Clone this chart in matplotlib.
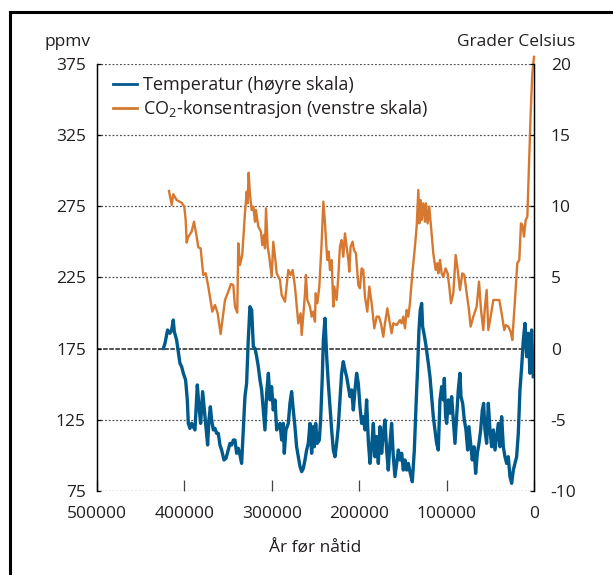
import matplotlib.pyplot as plt
from matplotlib.lines import Line2D

# CO2-konsentrasjon (ppmv), lest av figuren
co2_year = [417600, 414500, 412700, 408800, 403100, 400100, 398500, 397400, 395500, 391700,
            389000, 385900, 384100, 381400, 378400, 375600, 372600, 368000, 365000, 361900,
            358500, 353500, 349800, 346700, 344000, 342100, 339500, 338300, 336400, 333800,
            330700, 328700, 327600, 326500, 325000, 323000, 321100, 319200, 318100, 315400,
            312400, 310800, 308900, 307800, 306600, 304700, 302900, 300100, 298300, 296300,
            294400, 290600, 288700, 284900, 281100, 278400, 276100, 273500, 269650, 267000,
            265800, 263900, 262000, 260900, 259350, 256300, 254400, 252500, 250600, 249800,
            247900, 245600, 243000, 241000, 239100, 238000, 236500, 234950, 233400, 231500,
            229600, 228500, 225800, 223900, 222000, 220100, 218200, 216250, 214350, 212400,
            211300, 209800, 207500, 206000, 203700, 201000, 199100, 197200, 195300, 193400,
            190700, 188400, 185750, 182700, 180000, 177400, 175100, 172400, 170500, 167800,
            164800, 162900, 160950, 157100, 153300, 151400, 149500, 147600, 145700, 143800,
            141900, 139200, 136200, 134250, 132300, 131200, 129700, 128500, 126600, 124700,
            123600, 121700, 119800, 117850, 115200, 112500, 110600, 109500, 107550, 105650,
            103750, 101100, 98800, 96900, 95000, 92300, 89600, 87300, 84700, 82000,
            79700, 77000, 74400, 72500, 69400, 65600, 62900, 60600, 58000, 56100,
            54150, 52250, 49600, 46500, 42700, 39700, 37000, 34000, 32000, 29400,
            26700, 24800, 21750, 19100, 16800, 14900, 13350, 11450, 9500, 7600,
            5700, 3800, 1900, 0]
co2_ppmv = [285.8, 276.0, 283.5, 279.4, 277.5, 274.8, 265.4, 249.5, 253.7, 257.2,
            264.2, 253.7, 246.2, 245.5, 226.8, 228.0, 218.5, 201.0, 205.7, 199.8,
            185.3, 209.2, 215.0, 220.4, 219.7, 204.5, 200.3, 249.0, 233.8, 240.8,
            270.1, 285.3, 277.1, 298.6, 284.1, 272.4, 274.8, 264.2, 272.4, 260.7,
            257.2, 247.8, 254.9, 245.5, 273.6, 246.7, 239.6, 225.6, 250.1, 239.6,
            228.0, 223.2, 212.7, 208.0, 230.3, 226.8, 230.3, 218.6, 192.8, 199.8,
            184.6, 198.6, 213.9, 226.8, 209.2, 204.5, 197.5, 201.0, 194.0, 213.9,
            206.9, 218.6, 249.0, 278.3, 263.0, 251.3, 237.3, 243.2, 230.3, 237.3,
            204.5, 218.6, 209.2, 225.6, 246.7, 251.3, 239.6, 256.0, 246.7, 237.3,
            229.1, 246.7, 250.2, 244.3, 242.0, 219.7, 217.4, 231.4, 230.3, 211.5,
            201.0, 218.6, 206.9, 189.3, 197.5, 197.5, 192.8, 183.4, 192.8, 203.3,
            192.8, 185.8, 192.8, 191.6, 195.1, 192.8, 197.5, 189.3, 202.2, 197.5,
            206.9, 227.9, 246.7, 260.7, 286.5, 263.0, 279.4, 265.4, 277.1, 264.2,
            277.1, 263.0, 274.8, 260.7, 242.0, 230.3, 235.0, 227.9, 237.3, 227.9,
            225.6, 231.4, 227.9, 218.6, 206.9, 213.9, 240.8, 230.3, 216.2, 227.9,
            226.8, 213.9, 202.2, 190.5, 197.5, 204.5, 222.1, 202.2, 188.1, 204.5,
            216.2, 188.1, 197.5, 209.2, 209.2, 209.2, 199.8, 188.1, 191.6, 190.5,
            187.0, 181.1, 209.2, 235.0, 237.3, 263.0, 261.9, 253.7, 265.4, 267.7,
            302.9, 340.3, 368.4, 380.0]

# Temperatur (grader Celsius, avvik), lest av figuren
temp_year = [424100, 422200, 419200, 416500, 414600, 412700, 411500, 408900, 407000, 405050,
             403100, 401200, 398600, 396650, 395500, 393600, 391700, 389800, 387900, 386700,
             385200, 383300, 381400, 379100, 377200, 375700, 373400, 371900, 370300, 368800,
             366900, 365000, 363100, 361200, 359300, 357400, 354700, 352400, 349800, 347800,
             345900, 344000, 342100, 340200, 338300, 336400, 334500, 332600, 330700, 328800,
             326900, 325000, 323000, 321100, 319200, 317300, 315400, 313500, 311600, 309700,
             307800, 305900, 303900, 302100, 300200, 298300, 296300, 294400, 290600, 288700,
             286800, 285700, 283800, 281100, 279200, 277300, 275400, 273500, 271600, 269650,
             267700, 265800, 263900, 262000, 260100, 258200, 256300, 254400, 252500, 251300,
             249800, 247900, 245600, 244100, 242200, 241000, 239100, 237200, 235300, 233400,
             231500, 229600, 227700, 225800, 223900, 222000, 220100, 218200, 216250, 214350,
             212400, 210500, 208600, 206700, 204800, 202900, 201000, 199100, 197200, 195300,
             193400, 191500, 189600, 187650, 185750, 183800, 181900, 180000, 178100, 176200,
             174300, 172400, 170500, 168600, 166700, 164800, 162900, 160950, 159050, 157100,
             155200, 153300, 151400, 149500, 147600, 145700, 143800, 141900, 139200, 136900,
             135000, 133100, 131600, 130100, 128500, 127400, 125900, 123950, 122400, 120900,
             119000, 117100, 115200, 113300, 111400, 109500, 107550, 105650, 103750, 102600,
             101100, 99900, 98000, 96100, 94200, 92300, 90400, 88500, 86600, 84700,
             83500, 81600, 79700, 77800, 75900, 74400, 72500, 70600, 68650, 66750,
             64850, 62900, 61000, 59100, 57600, 56100, 54150, 52250, 50350, 48450,
             46500, 44600, 42700, 40800, 38900, 37000, 35100, 33200, 31300, 29400,
             27500, 25550, 23650, 21750, 19850, 17950, 16050, 14100, 12200, 10300,
             8400, 6500, 4600, 2700, 800]
temp_c = [0.02, 0.37, 1.31, 1.08, 1.31, 2.01, 1.19, 0.61, -0.21, -1.03,
          -1.27, -1.73, -2.20, -3.60, -5.25, -5.60, -5.25, -5.48, -5.71, -4.31,
          -2.55, -4.08, -5.25, -3.02, -4.31, -5.25, -6.77, -5.01, -4.08, -5.01,
          -5.71, -5.60, -5.95, -5.95, -6.77, -7.12, -7.82, -7.71, -7.12, -6.65,
          -6.77, -6.42, -6.42, -7.35, -7.00, -7.47, -8.06, -5.71, -3.37, -2.44,
          0.61, 2.95, 2.71, 0.14, 0.02, -0.56, -1.27, -2.20, -2.90, -4.31,
          -5.71, -3.14, -1.73, -3.60, -2.67, -4.31, -3.60, -5.71, -5.25, -6.42,
          -5.25, -7.35, -5.71, -5.25, -3.84, -3.02, -4.31, -5.48, -6.89, -7.59,
          -8.29, -8.64, -8.41, -7.82, -7.12, -6.65, -5.25, -7.35, -5.48, -6.89,
          -5.25, -6.65, -6.42, -5.01, -1.97, 0.61, 2.13, -0.56, -2.44, -4.08,
          -5.71, -7.12, -7.59, -6.65, -5.48, -3.60, -1.73, -0.91, -1.50, -1.97,
          -2.67, -3.37, -2.90, -4.31, -2.90, -1.73, -2.44, -4.08, -5.25, -4.78,
          -5.71, -3.60, -6.42, -8.06, -6.89, -5.25, -7.59, -6.18, -8.06, -5.48,
          -7.35, -5.95, -5.01, -7.12, -8.53, -6.65, -5.25, -7.59, -8.99, -8.06,
          -7.12, -7.82, -7.35, -8.53, -7.82, -8.53, -8.06, -8.64, -9.35, -7.12,
          -4.08, -1.27, 1.31, 2.71, 3.18, 1.54, 1.08, 0.37, -0.33, -1.03,
          -1.97, -3.37, -4.78, -5.71, -6.65, -7.12, -3.60, -2.67, -3.60, -2.09,
          -4.78, -5.25, -3.60, -4.54, -3.37, -5.01, -6.65, -4.78, -2.90, -1.73,
          -3.37, -3.84, -5.01, -5.71, -7.12, -5.48, -6.65, -7.82, -6.89, -8.76,
          -7.35, -6.65, -5.71, -4.31, -3.84, -5.71, -6.65, -3.84, -5.71, -6.89,
          -5.71, -7.12, -6.18, -5.25, -6.89, -4.78, -6.89, -7.59, -8.06, -7.59,
          -8.99, -9.46, -8.53, -8.06, -7.59, -5.95, -2.90, -1.27, 0.61, 1.78,
          -0.56, 1.08, -1.73, 1.31, -1.97]

x_ticks = [500000, 400000, 300000, 200000, 100000, 0]
ppmv_ticks = [75, 125, 175, 225, 275, 325, 375]
celsius_ticks = [-10, -5, 0, 5, 10, 15, 20]

blue = '#005a8c'
orange = '#d6782f'
textcol = '#231f20'

plt.rcParams['font.family'] = ['Open Sans', 'DejaVu Sans']
plt.rcParams['mathtext.fontset'] = 'custom'
plt.rcParams['mathtext.rm'] = 'Open Sans'
plt.rcParams['mathtext.default'] = 'regular'
fs = 12.5

fig = plt.figure(figsize=(6.13, 5.75), dpi=100)
ax = fig.add_axes([0.1582, 0.1461, 0.7129, 0.7426])
ax2 = ax.twinx()

# rutenett
for v in ppmv_ticks:
    if v == 175:
        ax.axhline(v, color='#222222', lw=1.1, ls=(0, (3, 1)), zorder=1)
    else:
        ax.axhline(v, color='#555555', lw=0.9, ls=(0, (1.5, 1.5)), zorder=1)

ax.plot(co2_year, co2_ppmv, color=orange, lw=1.7, zorder=3, clip_on=False)
ax2.plot(temp_year, temp_c, color=blue, lw=2.4, zorder=3)

ax.set_xlim(500000, 0)
ax.set_ylim(75, 375)
ax2.set_ylim(-10, 20)

ax.set_xticks(x_ticks)
ax.set_xticklabels([str(t) for t in x_ticks], fontsize=fs, color=textcol)
ax.set_yticks(ppmv_ticks)
ax.set_yticklabels([str(t) for t in ppmv_ticks], fontsize=fs, color=textcol)
ax2.set_yticks(celsius_ticks)
ax2.set_yticklabels([str(t) for t in celsius_ticks], fontsize=fs, color=textcol)

ax.tick_params(axis='x', direction='in', length=8, width=0.9, color='#444444', pad=11)
ax.tick_params(axis='y', direction='in', length=3, width=0.9, pad=8)
ax2.tick_params(axis='y', direction='in', length=3, width=0.9, pad=12)

for a in (ax, ax2):
    a.spines['top'].set_visible(False)
    a.spines['bottom'].set_visible(False)
    a.spines['left'].set_linewidth(0.9)
    a.spines['right'].set_linewidth(0.9)

ax.set_xlabel('År før nåtid', fontsize=fs, color=textcol, labelpad=13)

fig.text(45 / 613, 1 - 42 / 575, 'ppmv', fontsize=fs, color=textcol, va='center', ha='left')
fig.text(575 / 613, 1 - 42 / 575, 'Grader Celsius', fontsize=fs, color=textcol,
         va='center', ha='right')

handles = [Line2D([], [], color=blue, lw=2.0), Line2D([], [], color=orange, lw=2.0)]
labels = ['Temperatur (høyre skala)', 'CO$_2$-konsentrasjon (venstre skala)']
ax2.legend(handles, labels, loc='upper left', bbox_to_anchor=(0.037, 0.972),
           frameon=False, fontsize=fs + 0.5, handlelength=1.3, handletextpad=0.35,
           labelspacing=0.25, borderpad=0, borderaxespad=0, labelcolor=textcol)

# ramme rundt figuren (venstre og topp)
fig.add_artist(Line2D([10 / 613, 10 / 613], [0, 1 - 12 / 575], color='black', lw=2.2,
                      transform=fig.transFigure))
fig.add_artist(Line2D([10 / 613, 1], [1 - 12 / 575, 1 - 12 / 575], color='black', lw=2.2,
                      transform=fig.transFigure))

fig.savefig('out.png', dpi=100)
